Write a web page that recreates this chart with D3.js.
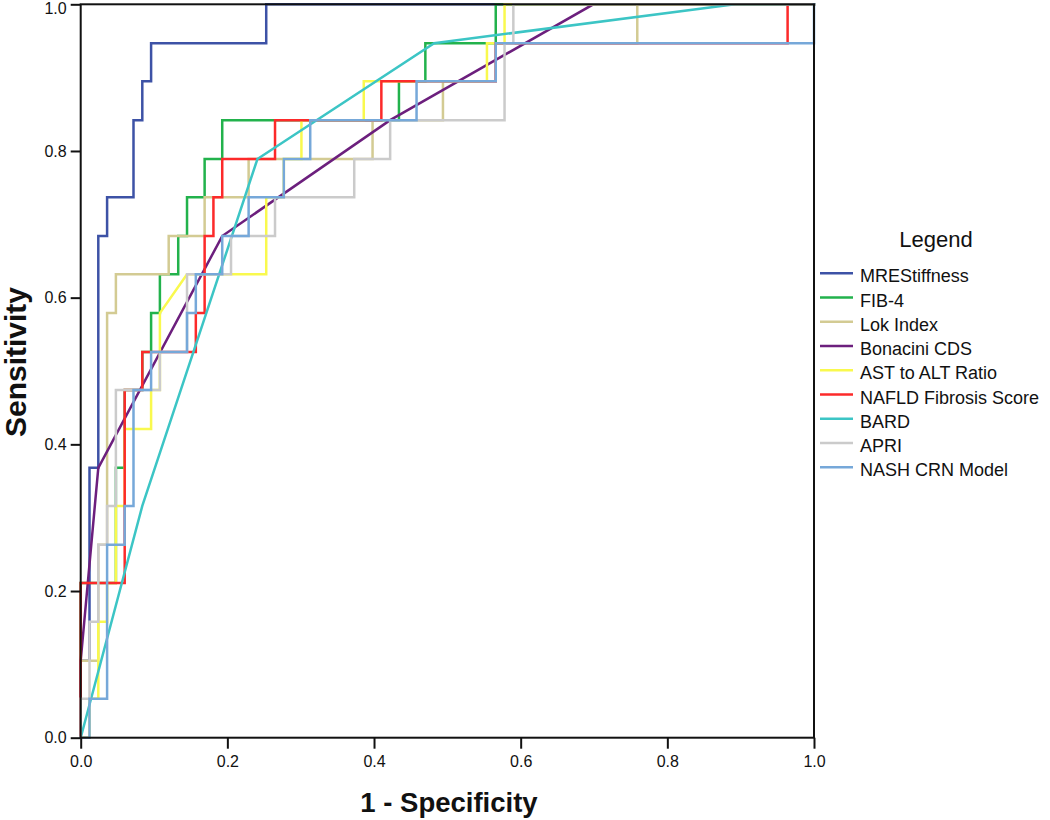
<!DOCTYPE html>
<html>
<head>
<meta charset="utf-8">
<script src="https://cdn.jsdelivr.net/npm/d3@7"></script>
<style>
  html, body { margin: 0; padding: 0; background: #ffffff; }
  svg { display: block; font-family: "Liberation Sans", Arial, sans-serif; }
</style>
</head>
<body>
<svg id="chart" width="1050" height="820"></svg>
<script>
// ---------- data (1 - specificity, sensitivity) ----------
const seriesNames = ["MREStiffness", "FIB-4", "Lok Index", "Bonacini CDS", "AST to ALT Ratio",
                     "NAFLD Fibrosis Score", "BARD", "APRI", "NASH CRN Model"];
const seriesColors = ["#3d52a6", "#22b24c", "#d3cb93", "#6c1f7d", "#f9f94e",
                      "#fc2a2a", "#3cc5c5", "#cbcbcb", "#76a8d9"];

const mreStiffness = [[0,0],[0,0.105],[0.012,0.105],[0.012,0.368],[0.024,0.368],[0.024,0.684],
  [0.036,0.684],[0.036,0.737],[0.072,0.737],[0.072,0.842],[0.084,0.842],[0.084,0.895],
  [0.096,0.895],[0.096,0.947],[0.253,0.947],[0.253,1],[1,1]];

const fib4 = [[0,0],[0,0.211],[0.048,0.211],[0.048,0.368],[0.060,0.368],[0.060,0.474],
  [0.084,0.474],[0.084,0.526],[0.096,0.526],[0.096,0.579],[0.108,0.579],[0.108,0.632],
  [0.133,0.632],[0.133,0.684],[0.145,0.684],[0.145,0.737],[0.169,0.737],[0.169,0.789],
  [0.193,0.789],[0.193,0.842],[0.434,0.842],[0.434,0.895],[0.470,0.895],[0.470,0.947],
  [0.566,0.947],[0.566,1],[1,1]];

const lokIndex = [[0,0],[0,0.105],[0.024,0.105],[0.024,0.263],[0.036,0.263],[0.036,0.579],
  [0.048,0.579],[0.048,0.632],[0.120,0.632],[0.120,0.684],[0.169,0.684],[0.169,0.737],
  [0.229,0.737],[0.229,0.789],[0.398,0.789],[0.398,0.842],[0.494,0.842],[0.494,0.895],
  [0.566,0.895],[0.566,0.947],[0.759,0.947],[0.759,1],[1,1]];

const bonaciniCDS = [[0,0],[0,0.105],[0.024,0.368],[0.193,0.684],[0.422,0.842],[0.699,1],[1,1]];

const astAltRatio = [[0,0],[0.012,0],[0.012,0.053],[0.024,0.053],[0.024,0.158],[0.036,0.158],
  [0.036,0.211],[0.048,0.211],[0.048,0.316],[0.060,0.316],[0.060,0.421],[0.096,0.421],
  [0.096,0.474],[0.108,0.474],[0.108,0.579],[0.145,0.632],[0.253,0.632],[0.253,0.737],
  [0.277,0.737],[0.277,0.789],[0.301,0.789],[0.301,0.842],[0.386,0.842],[0.386,0.895],
  [0.554,0.895],[0.554,0.947],[0.578,0.947],[0.578,1],[1,1]];

const nafldScore = [[0,0],[0,0.211],[0.060,0.211],[0.060,0.474],[0.084,0.474],[0.084,0.526],
  [0.157,0.526],[0.157,0.579],[0.169,0.579],[0.169,0.684],[0.181,0.684],[0.181,0.737],
  [0.193,0.737],[0.193,0.789],[0.265,0.789],[0.265,0.842],[0.410,0.842],[0.410,0.895],
  [0.566,0.895],[0.566,0.947],[0.964,0.947],[0.964,1],[1,1]];

const bard = [[0,0],[0.084,0.316],[0.241,0.789],[0.482,0.947],[0.892,1],[1,1]];

const apri = [[0,0],[0,0.053],[0.012,0.053],[0.012,0.158],[0.024,0.158],[0.024,0.263],
  [0.036,0.263],[0.036,0.316],[0.048,0.316],[0.048,0.474],[0.108,0.474],[0.108,0.526],
  [0.145,0.526],[0.145,0.632],[0.205,0.632],[0.205,0.684],[0.265,0.684],[0.265,0.737],
  [0.373,0.737],[0.373,0.789],[0.422,0.789],[0.422,0.842],[0.578,0.842],[0.578,0.947],
  [0.590,0.947],[0.590,1],[1,1]];

const nashCRN = [[0,0],[0.012,0],[0.012,0.053],[0.036,0.053],[0.036,0.263],[0.060,0.263],
  [0.060,0.316],[0.072,0.316],[0.072,0.474],[0.096,0.474],[0.096,0.526],[0.145,0.526],
  [0.145,0.579],[0.157,0.579],[0.157,0.632],[0.193,0.632],[0.193,0.684],[0.229,0.684],
  [0.229,0.737],[0.277,0.737],[0.277,0.789],[0.313,0.789],[0.313,0.842],[0.458,0.842],
  [0.458,0.895],[0.566,0.895],[0.566,0.947],[1,0.947],[1,1]];

const seriesData = [mreStiffness, fib4, lokIndex, bonaciniCDS, astAltRatio, nafldScore, bard, apri, nashCRN];

const tickValues = [0, 0.2, 0.4, 0.6, 0.8, 1.0];
const xTitle = "1 - Specificity";
const yTitle = "Sensitivity";
const legendTitle = "Legend";

// ---------- drawing ----------
(function draw() {
  const svg = d3.select("#chart");
  const pLeft = 80.7, pRight = 814, pTop = 4.3, pBottom = 737.7;

  const x = d3.scaleLinear().domain([0, 1]).range([pLeft, pRight]);
  const y = d3.scaleLinear().domain([0, 1]).range([pBottom, pTop]);

  svg.append("rect").attr("width", 1050).attr("height", 820).attr("fill", "#ffffff");

  const line = d3.line().x(d => x(d[0])).y(d => y(d[1]));

  const gLines = svg.append("g").attr("fill", "none").attr("stroke-width", 2.5)
    .attr("stroke-linejoin", "miter").attr("stroke-linecap", "square");
  seriesData.forEach((s, i) => {
    gLines.append("path").attr("d", line(s)).attr("stroke", seriesColors[i]);
  });

  // frame
  svg.append("rect").attr("x", pLeft).attr("y", pTop)
    .attr("width", pRight - pLeft).attr("height", pBottom - pTop)
    .attr("fill", "none").attr("stroke", "#111").attr("stroke-width", 2);

  // axes
  const fmt = d3.format(".1f");
  const yAxis = svg.append("g").attr("transform", `translate(${pLeft},0)`)
    .call(d3.axisLeft(y).tickValues(tickValues).tickFormat(fmt).tickSize(10).tickSizeOuter(0).tickPadding(4));
  const xAxis = svg.append("g").attr("transform", `translate(0,${pBottom})`)
    .call(d3.axisBottom(x).tickValues(tickValues).tickFormat(fmt).tickSize(11).tickSizeOuter(0).tickPadding(7));
  [yAxis, xAxis].forEach(a => {
    a.select(".domain").remove();
    a.selectAll(".tick line").attr("stroke", "#111").attr("stroke-width", 2);
    a.selectAll(".tick text").attr("fill", "#111").style("font-size", "16px")
      .style("font-family", "'Liberation Sans', Arial, sans-serif");
  });
  // keep the top y label inside the picture
  yAxis.selectAll(".tick text").filter(d => d === 1).attr("dy", "0.55em");

  // axis titles
  svg.append("text").attr("x", 449).attr("y", 812)
    .attr("text-anchor", "middle").style("font-size", "27.5px").style("font-weight", "bold")
    .attr("fill", "#111").text(xTitle);
  svg.append("text").attr("transform", `translate(26,362) rotate(-90)`)
    .attr("text-anchor", "middle").style("font-size", "30px").style("font-weight", "bold")
    .attr("fill", "#111").text(yTitle);

  // legend
  const lg = svg.append("g");
  lg.append("text").attr("x", 936).attr("y", 247).attr("text-anchor", "middle")
    .style("font-size", "22px").attr("fill", "#111").text(legendTitle);
  seriesNames.forEach((name, i) => {
    const ly = 273.3 + i * 24.25;
    lg.append("line").attr("x1", 820).attr("x2", 853).attr("y1", ly).attr("y2", ly)
      .attr("stroke", seriesColors[i]).attr("stroke-width", 2.5);
    lg.append("text").attr("x", 860).attr("y", ly + 9).style("font-size", "18px")
      .attr("fill", "#111").text(name);
  });
})();
</script>
</body>
</html>
